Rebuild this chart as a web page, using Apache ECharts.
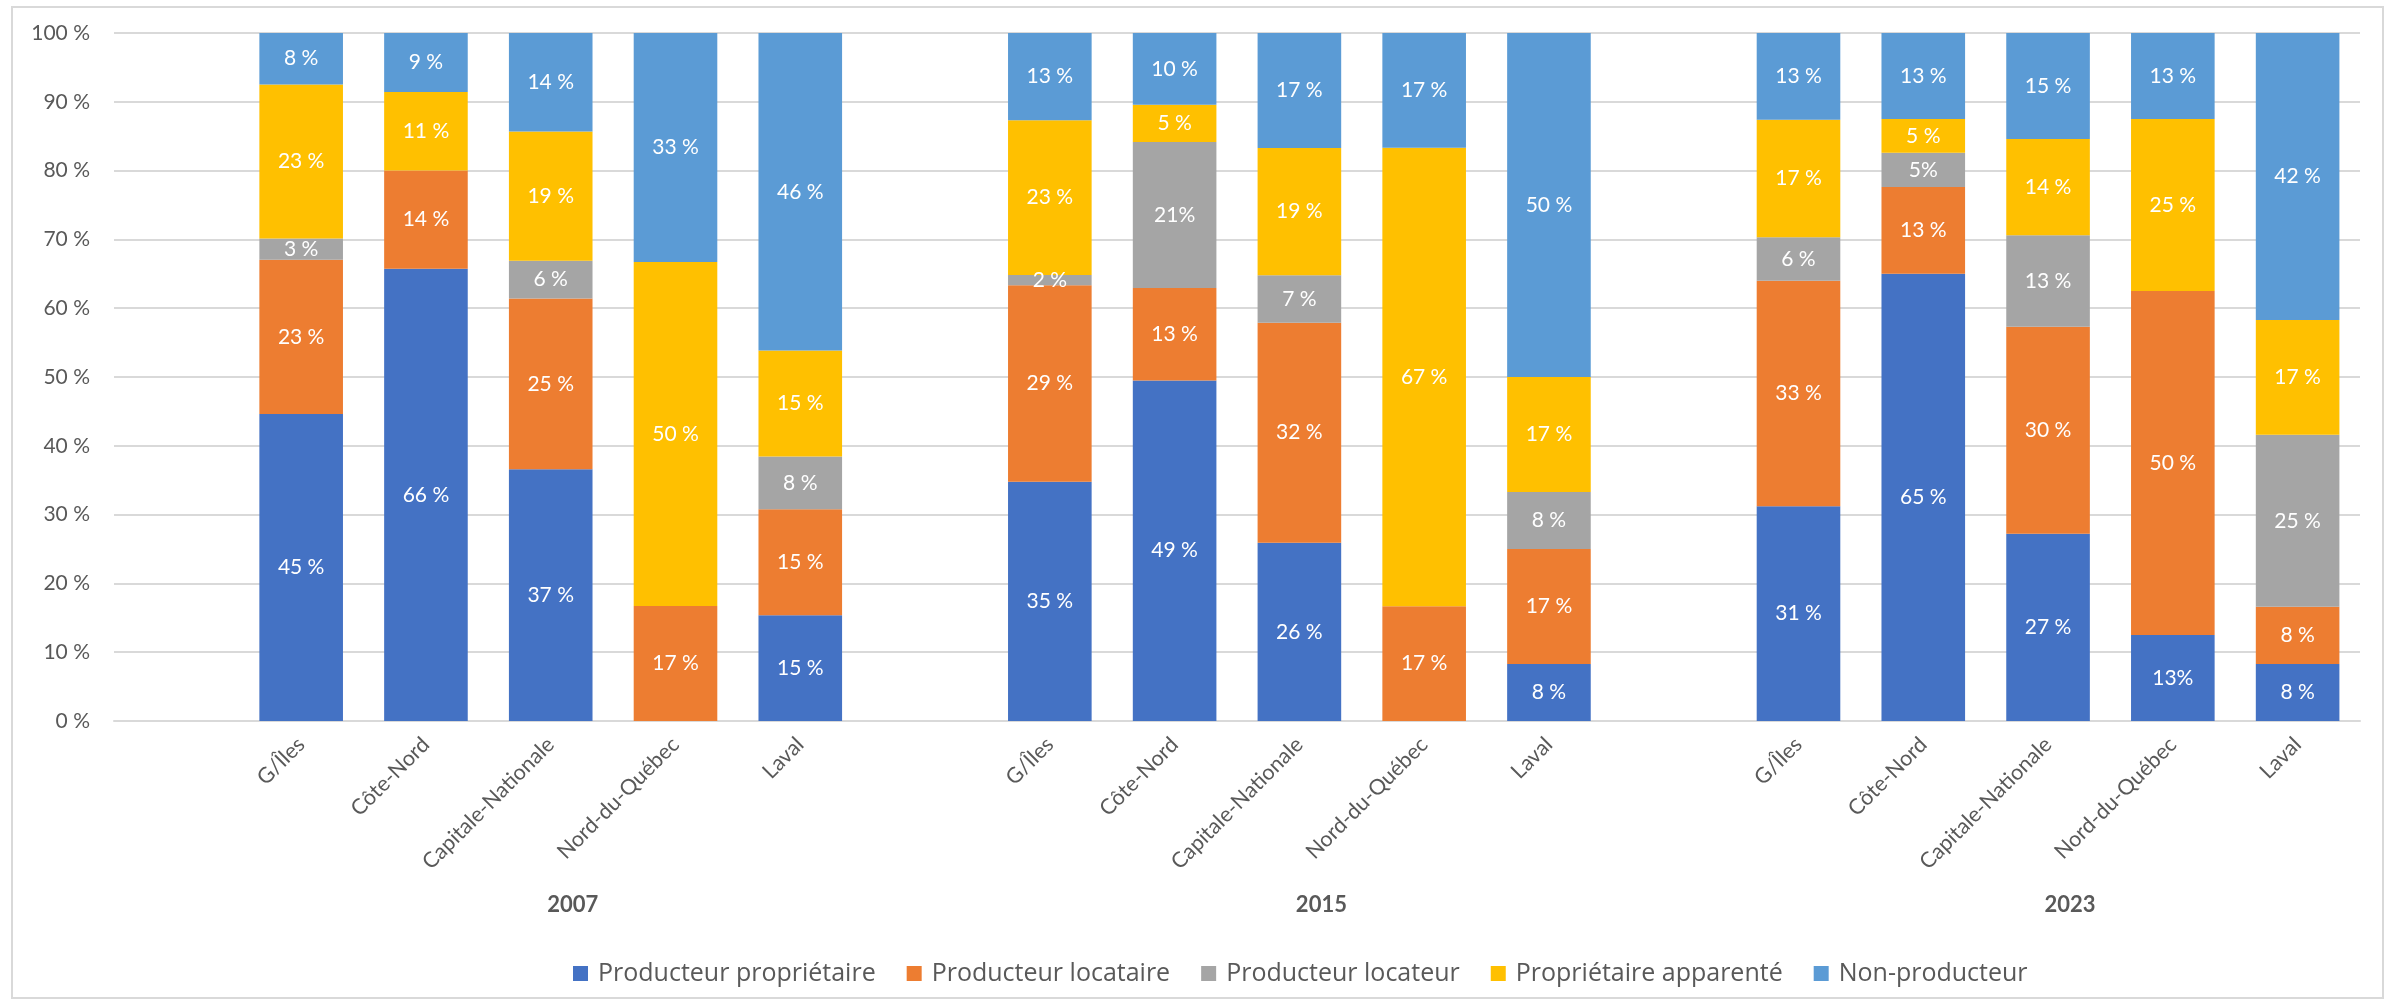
<!DOCTYPE html>
<html>
<head>
<meta charset="utf-8">
<script src="https://cdn.jsdelivr.net/npm/echarts@6/dist/echarts.min.js"></script>
<style>
  html, body { margin: 0; padding: 0; background: #ffffff; }
  #chart { width: 2392px; height: 1002px; }
</style>
</head>
<body>
<div id="chart"></div>
<script>
// ---- Data ----
const years = ['2007', '2015', '2023'];
const regions = ['G/Îles', 'Côte-Nord', 'Capitale-Nationale', 'Nord-du-Québec', 'Laval'];
const seriesNames = ['Producteur propriétaire', 'Producteur locataire', 'Producteur locateur', 'Propriétaire apparenté', 'Non-producteur'];

// each: [2007 regions], [2015 regions], [2023 regions]  (percent)
const producteurProprietaire = [
  [44.8, 65.8, 36.6, 0, 15.4],
  [34.8, 49.4, 25.9, 0, 8.3],
  [31.2, 65.0, 27.2, 12.5, 8.3]
];
const producteurLocataire = [
  [22.5, 14.3, 24.8, 16.7, 15.4],
  [28.6, 13.4, 32.0, 16.7, 16.7],
  [32.8, 12.6, 30.1, 50.0, 8.3]
];
const producteurLocateur = [
  [3.1, 0, 5.5, 0, 7.7],
  [1.5, 21.2, 6.9, 0, 8.3],
  [6.3, 5.0, 13.3, 0, 25.0]
];
const proprietaireApparente = [
  [22.5, 11.4, 18.8, 50.0, 15.4],
  [22.5, 5.4, 18.5, 66.7, 16.7],
  [17.1, 4.9, 14.0, 25.0, 16.7]
];
const nonProducteur = [
  [7.5, 8.6, 14.3, 33.3, 46.2],
  [12.7, 10.4, 16.7, 16.7, 50.0],
  [12.6, 12.5, 15.4, 12.5, 41.7]
];
// data labels written without a space before "%" in the reference
const noSpaceLabels = [
  ['2015', 'Côte-Nord', 'Producteur locateur'],
  ['2023', 'Côte-Nord', 'Producteur locateur'],
  ['2023', 'Nord-du-Québec', 'Producteur propriétaire']
];
const yTicks = [0, 10, 20, 30, 40, 50, 60, 70, 80, 90, 100];

const colors = ['#4472C4', '#ED7D31', '#A5A5A5', '#FFC000', '#5B9BD5'];
const allSeries = [producteurProprietaire, producteurLocataire, producteurLocateur, proprietaireApparente, nonProducteur];

// ---- Build categories: one empty slot before each year group ----
const xCats = [];
const yearCats = [];
years.forEach((y) => {
  xCats.push('');
  yearCats.push('');
  regions.forEach((r, i) => {
    xCats.push(r);
    yearCats.push(i === 2 ? y : '');
  });
});

function isNoSpace(y, r, s) {
  return noSpaceLabels.some(k => k[0] === y && k[1] === r && k[2] === s);
}

const series = allSeries.map((arr, si) => {
  const data = [];
  years.forEach((y, yi) => {
    data.push({ value: null });
    regions.forEach((r, ri) => {
      let total = 0;
      allSeries.forEach(a => { total += a[yi][ri]; });
      const raw = arr[yi][ri];
      data.push({
        value: raw / total * 100,
        raw: raw,
        nospace: isNoSpace(y, r, seriesNames[si])
      });
    });
  });
  return {
    name: seriesNames[si],
    type: 'bar',
    stack: 'total',
    barCategoryGap: '33%',
    itemStyle: { color: colors[si] },
    label: {
      show: true,
      position: 'inside',
      color: '#ffffff',
      fontFamily: 'Lato',
      fontSize: 21,
      formatter: (p) => {
        if (!p.data || !p.data.raw) return '';
        return Math.round(p.data.raw) + (p.data.nospace ? '%' : ' %');
      }
    },
    data: data
  };
});

const chart = echarts.init(document.getElementById('chart'), null, { renderer: 'canvas' });
chart.setOption({
  animation: false,
  backgroundColor: '#ffffff',
  textStyle: { fontFamily: 'Lato' },
  grid: { left: 114, right: 32, top: 33, bottom: 281, containLabel: false },
  xAxis: [
    {
      type: 'category',
      data: xCats,
      position: 'bottom',
      axisLine: { show: true, lineStyle: { color: '#D9D9D9', width: 2 } },
      axisTick: { show: false },
      axisLabel: {
        interval: 0,
        rotate: 45,
        margin: 20,
        color: '#595959',
        fontFamily: 'Lato',
        fontSize: 21.5
      }
    },
    {
      type: 'category',
      data: yearCats,
      position: 'bottom',
      offset: 157,
      axisLine: { show: false },
      axisTick: { show: false },
      splitLine: { show: false },
      axisLabel: {
        interval: 0,
        margin: 16,
        color: '#595959',
        fontFamily: 'Lato',
        fontWeight: 'bold',
        fontSize: 22,
        padding: [0, 0, 0, 44]
      }
    }
  ],
  yAxis: {
    type: 'value',
    min: yTicks[0],
    max: yTicks[yTicks.length - 1],
    interval: yTicks[1] - yTicks[0],
    axisLine: { show: false },
    axisTick: { show: false },
    splitLine: { lineStyle: { color: '#D9D9D9', width: 2 } },
    axisLabel: {
      margin: 24,
      color: '#595959',
      fontFamily: 'Lato',
      fontSize: 21,
      formatter: '{value} %'
    }
  },
  legend: {
    data: seriesNames,
    left: 568,
    top: 956,
    icon: 'rect',
    itemWidth: 15,
    itemHeight: 15,
    itemGap: 31,
    textStyle: { color: '#595959', fontFamily: 'Open Sans', fontSize: 25, padding: [0, 0, 0, 5] }
  },
  graphic: [{
    type: 'rect',
    silent: true,
    z: -10,
    shape: { x: 12, y: 7, width: 2371, height: 991 },
    style: { fill: 'none', stroke: '#D9D9D9', lineWidth: 2 }
  }],
  series: series
});
</script>
</body>
</html>
